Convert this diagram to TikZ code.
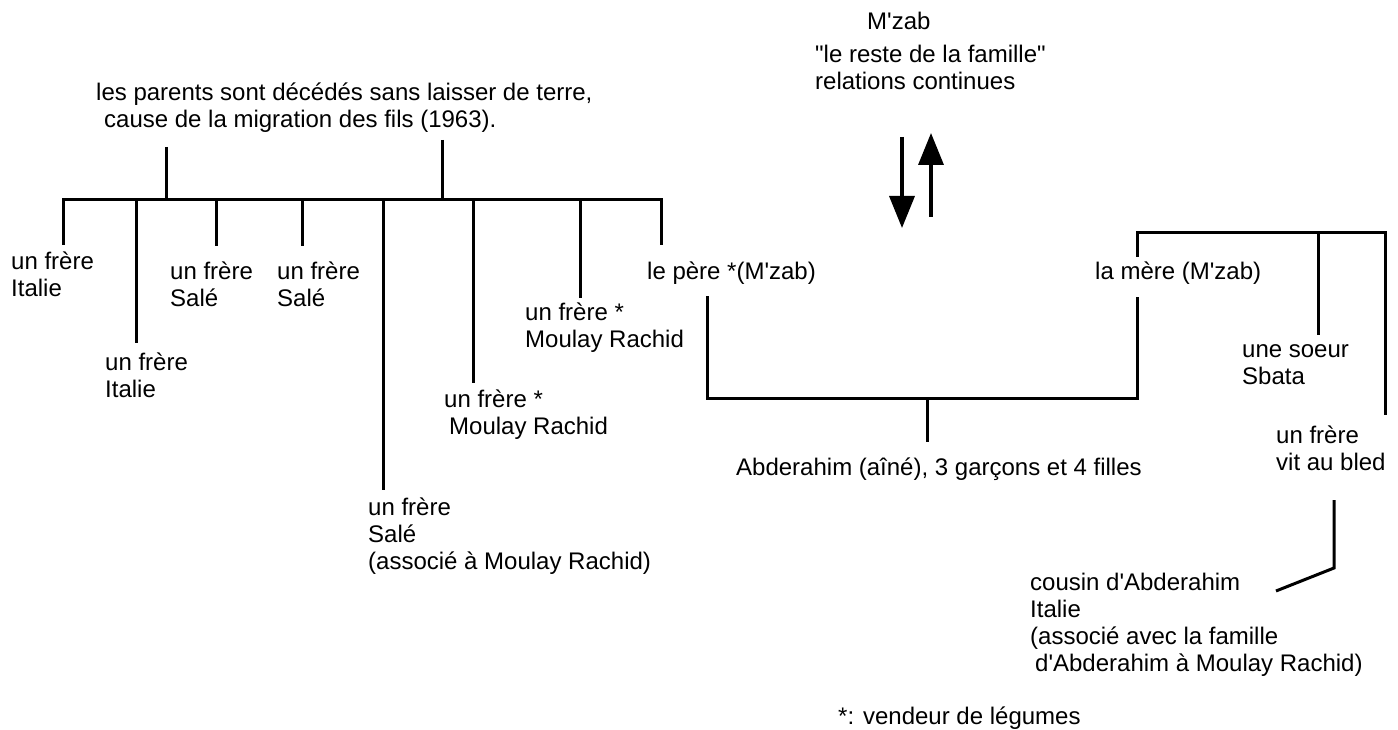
\documentclass[tikz,border=0pt]{standalone}
\usepackage{fontspec}
\setmainfont{Liberation Sans}[Ligatures=TeXOff]
\usetikzlibrary{arrows.meta}
\begin{document}
\begin{tikzpicture}[x=1pt,y=-1pt,
  lbl/.style={inner sep=0pt, anchor=north west, align=left, font=\fontsize{24}{27}\selectfont},
  ln/.style={line width=3pt},
  arr/.style={line width=3.5pt, -{Triangle[length=32pt,width=25pt]}}]
\useasboundingbox (0,0) rectangle (1398,730);
\fill[white] (0,0) rectangle (1398,730);
% labels
\node[lbl] (par) at (96,81) {\strut les parents sont décédés sans laisser de terre,\\\hspace*{8pt}cause de la migration des fils (1963).};
\node[lbl] (f1) at (11,250) {\strut un frère\\Italie};
\node[lbl] (f2) at (105,351) {\strut un frère\\Italie};
\node[lbl] (f3) at (170,260) {\strut un frère\\Salé};
\node[lbl] (f4) at (277,260) {\strut un frère\\Salé};
\node[lbl] (f5) at (368,496) {\strut un frère\\Salé\\(associé à Moulay Rachid)};
\node[lbl] (f6) at (444,388) {\strut un frère *\\\hspace*{5pt}Moulay Rachid};
\node[lbl] (f7) at (525,301) {\strut un frère *\\Moulay Rachid};
\node[lbl] (pere) at (647,260) {\strut le père *(M'zab)};
\node[lbl] (mzab) at (867,10) {\strut M'zab};
\node[lbl] (reste) at (815,43) {\strut "le reste de la famille"\\relations continues};
\node[lbl] (abd) at (736,456) {\strut Abderahim (aîné), 3 garçons et 4 filles};
\node[lbl] (mere) at (1095,260) {\strut la mère (M'zab)};
\node[lbl] (soeur) at (1242,338) {\strut une soeur\\Sbata};
\node[lbl] (bled) at (1276,424) {\strut un frère\\vit au bled};
\node[lbl] (cousin) at (1030,571) {\strut cousin d'Abderahim\\Italie\\(associé avec la famille\\\hspace*{5pt}d'Abderahim à Moulay Rachid)};
\node[lbl] (leg) at (838,705) {\strut *: vendeur de légumes};
% coordinates: father's siblings
\coordinate (s1t) at (166,147); \coordinate (s1b) at (166,200);
\coordinate (s2t) at (442,140); \coordinate (s2b) at (442,200);
\coordinate (b1) at (63,200);  \coordinate (e1) at (63,245);
\coordinate (b2) at (136,200); \coordinate (e2) at (136,343);
\coordinate (b3) at (216,200); \coordinate (e3) at (216,246);
\coordinate (b4) at (302,200); \coordinate (e4) at (302,246);
\coordinate (b5) at (383,200); \coordinate (e5) at (383,490);
\coordinate (b6) at (473,200); \coordinate (e6) at (473,383);
\coordinate (b7) at (580,200); \coordinate (e7) at (580,298);
\coordinate (b8) at (661,200); \coordinate (e8) at (661,245);
\draw[ln] (s1t) -- (s1b);
\draw[ln] (s2t) -- (s2b);
\draw[ln] (e1) -- (b1) -- (b8) -- (e8);
\foreach \i in {2,...,7} {\draw[ln] (b\i) -- (e\i);}
% parents and child
\coordinate (pt) at (707,296); \coordinate (pb) at (707,398);
\coordinate (mt) at (1137,297); \coordinate (mb) at (1137,398);
\coordinate (ct) at (927,398); \coordinate (cb) at (927,442);
\draw[ln] (pt) -- (pb) -- (mb) -- (mt);
\draw[ln] (ct) -- (cb);
% mother's siblings
\coordinate (m1) at (1137,257); \coordinate (m1t) at (1137,233);
\coordinate (m2t) at (1318,233); \coordinate (m2) at (1318,335);
\coordinate (m3t) at (1385,233); \coordinate (m3) at (1385,415);
\draw[ln] (m1) -- (m1t) -- (m3t) -- (m3);
\draw[ln] (m2t) -- (m2);
% cousin
\coordinate (c1) at (1334,500); \coordinate (c2) at (1334,568); \coordinate (c3) at (1276,591);
\draw[ln] (c1) -- (c2) -- (c3);
% arrows
\coordinate (d1) at (902,137); \coordinate (d2) at (902,228);
\coordinate (u1) at (931,217); \coordinate (u2) at (931,133);
\draw[arr] (d1) -- (d2);
\draw[arr] (u1) -- (u2);
\end{tikzpicture}
\end{document}
